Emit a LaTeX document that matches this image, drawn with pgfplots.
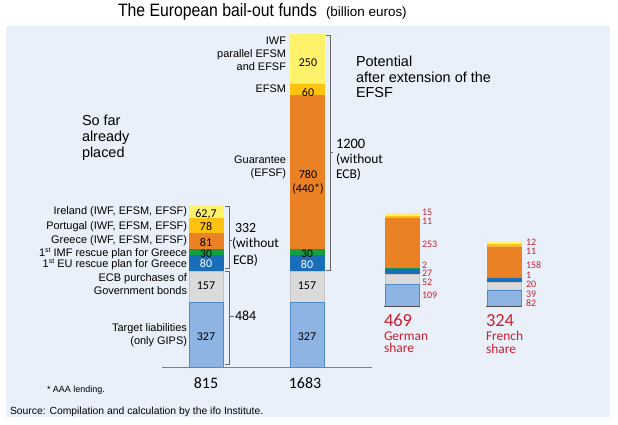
\documentclass[border=0pt]{standalone}
\usepackage{graphicx}
\usepackage{pgfplots}
\pgfplotsset{compat=1.18}
\usepackage{fontspec}
\setmainfont{Liberation Sans}
\newfontfamily\calfont{Carlito}
\definecolor{bgblue}{HTML}{E9F0F9}
\definecolor{tblue}{HTML}{8DB4E2}
\definecolor{tbluedark}{HTML}{4F8BCB}
\definecolor{ecbgray}{HTML}{DADADA}
\definecolor{ecbgraydark}{HTML}{C4C4C4}
\definecolor{eublue}{HTML}{1A6DB8}
\definecolor{imfgreen}{HTML}{13A043}
\definecolor{orng}{HTML}{EB8125}
\definecolor{gold}{HTML}{FFC20E}
\definecolor{lyellow}{HTML}{FFF26B}
\definecolor{redtxt}{HTML}{C8202F}
\definecolor{brk}{HTML}{666666}
\newcommand{\fs}[1]{\fontsize{#1}{#1}\selectfont}
\newcommand{\sst}{\raisebox{0.32em}{\fontsize{7}{7}\selectfont st}}
\begin{document}
\begin{tikzpicture}[x=1bp,y=1bp]
\fill[white] (0,0) rectangle (618,424);
\fill[bgblue] (6,398) rectangle (610,7);
\begin{axis}[at={(0,0)},anchor=south west,width=618bp,height=424bp,scale only axis,
  xmin=0,xmax=618,ymin=-288.6,ymax=1858.2,hide axis,clip=false,
  ybar stacked,bar width=34]
\addplot[draw=none,fill=none] coordinates {(206,0) (307,0) (402,309) (504,309)};
\addplot[fill=tblue,draw=tbluedark] coordinates {(206,327) (307,327) (402,109) (504,82)};
\addplot[fill=ecbgray,draw=ecbgraydark] coordinates {(206,157) (307,157) (402,52) (504,39)};
\addplot[fill=eublue,draw=eublue] coordinates {(206,80) (307,80) (402,27) (504,20)};
\addplot[fill=imfgreen,draw=imfgreen] coordinates {(206,30) (307,30) (402,2) (504,1)};
\addplot[fill=orng,draw=orng] coordinates {(206,81) (307,780) (402,253) (504,158)};
\addplot[fill=gold,draw=gold] coordinates {(206,78) (307,60) (402,11) (504,11)};
\addplot[fill=lyellow,draw=lyellow] coordinates {(206,62.7) (307,250) (402,15) (504,12)};
\end{axis}
\begin{scope}[shift={(0,424)},yscale=-1,every node/.style={inner sep=0pt,outer sep=0pt}]
% baselines
\draw[gray,line width=1.2] (162,367.8) -- (372,367.8);
\draw[gray!60!black,line width=1.5] (384,306.5) -- (420,306.5);
\draw[gray!60!black,line width=1.5] (486,306.5) -- (522,306.5);
% brackets
\draw[brk,line width=0.9] (225,206) -- (229,206) -- (229,268.8) -- (225,268.8);
\draw[brk,line width=0.9] (229,240) -- (232,240);
\draw[brk,line width=0.9] (225,271) -- (229,271) -- (229,364) -- (225,364);
\draw[brk,line width=0.9] (229,316) -- (234,316);
\draw[brk,line width=0.9] (326,35) -- (330,35) -- (330,270) -- (326,270);
\draw[brk,line width=0.9] (330,152) -- (333,152);
% title
\node[anchor=base west] at (118,17) {\scalebox{0.88}[1]{\fs{18}The European bail-out funds}};
\node[anchor=base west] at (326,17) {\fs{13.5}(billion euros)};
% group captions
\node[anchor=base west] at (82,125) {\fs{14.5}So far};
\node[anchor=base west] at (82,141) {\fs{14.5}already};
\node[anchor=base west] at (82,157) {\fs{14.5}placed};
\node[anchor=base west] at (356,66.5) {\fs{14.5}Potential};
\node[anchor=base west] at (356,82) {\fs{14.5}after extension of the};
\node[anchor=base west] at (356,97.5) {\fs{14.5}EFSF};
% left labels bar 1
\begin{scope}[every node/.append style={anchor=base east}]
\node at (187,214) {\fs{11}Ireland (IWF, EFSM, EFSF)};
\node at (187,229) {\fs{11}Portugal (IWF, EFSM, EFSF)};
\node at (187,243.3) {\fs{11}Greece (IWF, EFSM, EFSF)};
\node at (187,256) {\fs{11}1\sst{} IMF rescue plan for Greece};
\node at (187,267.5) {\fs{11}1\sst{} EU rescue plan for Greece};
\node at (187,281.7) {\fs{11}ECB purchases of};
\node at (187,294) {\fs{11}Government bonds};
\node at (187,331) {\fs{11}Target liabilities};
\node at (187,344) {\fs{11}(only GIPS)};
% left labels bar 2
\node at (286,44) {\fs{11}IWF};
\node at (286,57.3) {\fs{11}parallel EFSM};
\node at (286,70) {\fs{11}and EFSF};
\node at (286,92.3) {\fs{11}EFSM};
\node at (286,163.3) {\fs{11}Guarantee};
\node at (286,176.7) {\fs{11}(EFSF)};
\end{scope}
% numbers in bars
\begin{scope}[every node/.append style={anchor=base}]
\node at (206,217) {\calfont\fs{12}62,7};
\node at (206,230.7) {\calfont\fs{12}78};
\node at (206,246) {\calfont\fs{12}81};
\node at (206,257) {\calfont\fs{11.5}30};
\node[white] at (206,267.5) {\calfont\fs{12}80};
\node at (206,289) {\calfont\fs{12}157};
\node at (206,340) {\calfont\fs{12}327};
\node at (308,66.5) {\calfont\fs{12}250};
\node at (308,96.5) {\calfont\fs{12}60};
\node at (308,178) {\calfont\fs{12}780};
\node at (308,192.5) {\calfont\fs{12}(440*)};
\node at (307,257) {\calfont\fs{11.5}30};
\node[white] at (307,268) {\calfont\fs{12}80};
\node at (307,289) {\calfont\fs{12}157};
\node at (307,340) {\calfont\fs{12}327};
\node at (206,388.3) {\calfont\fs{16}815};
\node at (305,388.3) {\calfont\fs{16}1683};
\end{scope}
% bracket labels
\begin{scope}[every node/.append style={anchor=base west}]
\node at (235,232.3) {\calfont\fs{14}332};
\node at (232,247.3) {\calfont\fs{13.5}(without};
\node at (233,264) {\calfont\fs{13.5}ECB)};
\node at (235,320) {\calfont\fs{14}484};
\node at (336,148) {\calfont\fs{14.5}1200};
\node at (336,163.5) {\calfont\fs{13.5}(without};
\node at (336,178) {\calfont\fs{13.5}ECB)};
% red numbers
\begin{scope}[every node/.append style={text=redtxt}]
\node at (422,215.7) {\calfont\fs{10}15};
\node at (422,224.7) {\calfont\fs{10}11};
\node at (422,247.3) {\calfont\fs{10}253};
\node at (422,268) {\calfont\fs{10}2};
\node at (422,276.5) {\calfont\fs{10}27};
\node at (422,285) {\calfont\fs{10}52};
\node at (422,298.3) {\calfont\fs{10}109};
\node at (526,245) {\calfont\fs{10}12};
\node at (526,254) {\calfont\fs{10}11};
\node at (526,268.3) {\calfont\fs{10}158};
\node at (526,278.8) {\calfont\fs{10}1};
\node at (526,287.8) {\calfont\fs{10}20};
\node at (526,297) {\calfont\fs{10}39};
\node at (526,306.7) {\calfont\fs{10}82};
\node at (384,326) {\calfont\fs{18.5}469};
\node at (384,340) {\calfont\fs{13.5}German};
\node at (384,352.5) {\calfont\fs{13.5}share};
\node at (486,326) {\calfont\fs{18.5}324};
\node at (486,340.5) {\calfont\fs{13.5}French};
\node at (486,353) {\calfont\fs{13.5}share};
\end{scope}
% footer
\node at (47,392) {\fs{9}* AAA lending.};
\node at (10,414) {\fs{10.4}Source: Compilation and calculation by the ifo Institute.};
\end{scope}
\end{scope}
\end{tikzpicture}
\end{document}
